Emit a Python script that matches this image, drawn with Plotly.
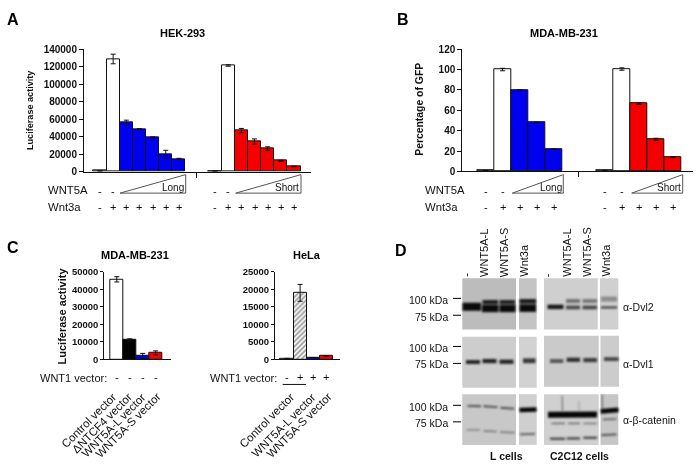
import plotly.graph_objects as go

W, H = 700, 473
FONT = "Liberation Sans"
BLUE, RED, WHITE, BLACK = "#0000f0", "#f50000", "#ffffff", "#000000"

# Panel A
A_x1 = [0, 1, 2, 3, 4, 5, 6]
A_y1 = [1000, 129000, 56000, 48500, 39000, 20000, 14500]
A_e1 = [300, 5500, 3000, 800, 800, 4500, 800]
A_c1 = [WHITE, WHITE, BLUE, BLUE, BLUE, BLUE, BLUE]
A_x2 = [8.75, 9.75, 10.75, 11.75, 12.75, 13.75, 14.75]
A_y2 = [800, 121500, 47000, 34500, 26500, 12500, 6000]
A_e2 = [200, 800, 2500, 3000, 2000, 600, 400]
A_c2 = [WHITE, WHITE, RED, RED, RED, RED, RED]
A_wnt5a = ["-", "-", "", "", "", "", ""]
A_wnt3a = ["-", "+", "+", "+", "+", "+", "+"]

# Panel B
B_x1 = [0, 1, 2, 3, 4]
B_y1 = [0.8, 100, 80, 48, 22]
B_e1 = [0.2, 1.2, 0.3, 0.3, 0.4]
B_c1 = [WHITE, WHITE, BLUE, BLUE, BLUE]
B_x2 = [7, 8, 9, 10, 11]
B_y2 = [0.8, 100.5, 66.5, 31.5, 14]
B_e2 = [0.2, 1.2, 0.8, 1, 0.5]
B_c2 = [WHITE, WHITE, RED, RED, RED]
B_wnt5a = ["-", "-", "", "", ""]
B_wnt3a = ["-", "+", "+", "+", "+"]

# Panel C
C1_x = [0, 1, 2, 3]
C1_y = [45700, 11000, 2000, 3700]
C1_e = [1500, 800, 1500, 1200]
C1_c = [WHITE, BLACK, BLUE, RED]
C1_wnt1 = ["-", "-", "-", "-"]
C1_labels = ["Control vector", "ΔNTCF4 vector", "WNT5A-L vector", "WNT5A-S vector"]
C1_label_ends = [119, 134, 148, 163]
C2_x = [0, 1, 2, 3]
C2_y = [300, 19000, 500, 1000]
C2_e = [0, 2400, 0, 0]
C2_c = [WHITE, WHITE, BLUE, RED]
C2_wnt1 = ["-", "+", "+", "+"]
C2_labels = ["Control vector", "WNT5A-L vector", "WNT5A-S vector"]
C2_label_ends = [297, 318, 334]

# Panel D: gel panels (left, right, top, bottom, gray) and bands (x0, x1, y0, y1, width, gray)
GELS = [
    (462.3, 516, 279.3, 332, "#bcbcbc"), (519, 536.7, 279.3, 332, "#c4c4c4"),
    (544, 597.7, 279.3, 332, "#cfcfcf"), (600, 618.3, 279.3, 332, "#d0d0d0"),
    (462.3, 516, 339.3, 391.7, "#cdcdcd"), (519, 536.7, 339.3, 391.7, "#d2d2d2"),
    (544, 598.7, 338.3, 390.7, "#cacaca"), (600.5, 619, 338.3, 390.7, "#cccccc"),
    (462.3, 516, 398.3, 450.3, "#c8c8c8"), (519, 536.7, 398.3, 450.3, "#cfcfcf"),
    (544, 598.7, 398.3, 450.3, "#d0d0d0"), (600.5, 618.3, 398.3, 450.3, "#c6c6c6"),
]
BANDS = [
    # Dvl2, L cells
    (462.5, 481, 308.5, 308.7, 8, "#0a0a0a"),
    (482.5, 498, 303.7, 303.7, 4, "#1c1c1c"), (482, 498.5, 310.3, 310.3, 7.5, "#0a0a0a"),
    (499.5, 515, 303.7, 303.7, 4, "#222222"), (499.5, 515.5, 310.3, 310.3, 7.5, "#0a0a0a"),
    (519.5, 536, 303, 303, 4.5, "#181818"), (519.5, 536, 310, 310, 7.5, "#0a0a0a"),
    # Dvl2, C2C12
    (547.5, 563.5, 308.7, 308.7, 4.5, "#181818"),
    (566, 580, 302.7, 302.7, 3.8, "#707070"), (566, 580, 309.3, 309.3, 3.8, "#484848"),
    (582.5, 597, 302.7, 302.7, 3.8, "#757575"), (582.5, 597, 309.3, 309.3, 3.8, "#484848"),
    (601, 617, 300.7, 300.7, 5, "#8c8c8c"), (601, 617, 309.3, 309.3, 2, "#303030"),
    # Dvl1, L cells
    (466, 480, 365.3, 365.3, 3.8, "#1f1f1f"), (482.5, 496.5, 364.3, 364.3, 4.2, "#222222"),
    (499.5, 513.5, 365, 365, 4.2, "#222222"), (523, 535.5, 364, 364, 4.8, "#383838"),
    # Dvl1, C2C12
    (550, 563.3, 364.3, 364.3, 3.8, "#505050"), (566.7, 580, 363, 363, 4.2, "#2c2c2c"),
    (583.3, 597, 363.3, 363.3, 4.2, "#3c3c3c"), (604, 618.5, 362.3, 362.3, 3.8, "#444444"),
    # beta-catenin, L cells
    (467.5, 481, 410.3, 410.6, 1.9, "#4a4a4a"), (483.5, 497.5, 410.6, 411.6, 1.9, "#4a4a4a"),
    (500.5, 514, 412.2, 413.2, 1.9, "#4a4a4a"),
    (466.5, 480, 435, 435, 1.5, "#808080"), (483.5, 496.5, 436, 436.6, 1.5, "#707070"),
    (500, 514.5, 437, 437.8, 1.5, "#707070"),
    (519.5, 536.5, 414.6, 414, 4.5, "#050505"), (520, 535, 439.5, 439, 1.7, "#555555"),
    # beta-catenin, C2C12
    (548, 597, 419.5, 419.2, 6, "#050505"),
    (551.5, 565, 428.3, 428.3, 1.6, "#6a6a6a"), (568, 580, 428.3, 428.3, 1.6, "#6a6a6a"),
    (583.5, 597, 428.3, 428.3, 1.6, "#787878"),
    (550, 565, 444, 444, 2, "#333333"), (566.7, 580, 443.7, 443.7, 2, "#333333"),
    (583.3, 597, 443, 443, 2, "#333333"),
    (600.7, 618.5, 416, 414.5, 4.8, "#050505"), (603, 616.5, 424.3, 423.7, 1.6, "#555555"),
    (601.5, 616.5, 440.3, 439.5, 1.7, "#444444"),
    # vertical streaks
    (562.3, 562.5, 400, 415, 1.2, "#707070"), (579, 579.2, 405, 415, 1, "#999999"),
    (602.3, 602.5, 398.5, 414, 1.2, "#666666"),
]
D_lanes = ["-", "WNT5A-L", "WNT5A-S", "Wnt3a", "-", "WNT5A-L", "WNT5A-S", "Wnt3a"]
D_lane_x = [465.7, 484, 504.3, 524.3, 547.3, 566.7, 586.7, 606]
D_kda = [("100 kDa", 301.7, 300), ("75 kDa", 319, 317.3), ("100 kDa", 350.7, 349.3),
         ("75 kDa", 367.7, 366.7), ("100 kDa", 411, 409.7), ("75 kDa", 427.7, 426.7)]
D_right = [("α-Dvl2", 309), ("α-Dvl1", 367.3), ("α-β-catenin", 425)]


def X(p):
    return p / W


def Y(p):
    return 1 - p / H


fig = go.Figure()
annotations = []
shapes = []


def text(s, x, y, size=11, bold=False, xa="center", ya="middle", angle=0, xref="paper", color="#111111"):
    annotations.append(dict(
        text=f"<b>{s}</b>" if bold else s, x=x if xref != "paper" else X(x), y=Y(y),
        xref=xref, yref="paper", xanchor=xa, yanchor=ya, textangle=angle, showarrow=False,
        font=dict(family=FONT, size=size, color=color), borderpad=0, borderwidth=0))


def bars(x, y, e, colors, ax, pattern=None):
    marker = dict(color=colors, line=dict(color="#111111", width=1))
    if pattern:
        marker["pattern"] = pattern
    fig.add_trace(go.Bar(
        x=x, y=y, width=1, marker=marker, xaxis=f"x{ax}", yaxis=f"y{ax}", showlegend=False,
        error_y=dict(type="data", array=e, visible=True, color="#111111", thickness=1, width=2.5)))


bars(A_x1, A_y1, A_e1, A_c1, "")
bars(A_x2, A_y2, A_e2, A_c2, "")
bars(B_x1, B_y1, B_e1, B_c1, 2)
bars(B_x2, B_y2, B_e2, B_c2, 2)
bars(C1_x, C1_y, C1_e, C1_c, 3)
bars(C2_x, C2_y, C2_e, C2_c, 4,
     pattern=dict(shape=["", "/", "", ""], fgcolor="#111111", bgcolor="#ffffff", size=3.5, solidity=0.55))


def axis(left, right, c0, slot, tickvals=None):
    a = dict(domain=[X(left), X(right)], range=[(left - c0) / slot, (right - c0) / slot],
             showgrid=False, zeroline=False, showline=True, linecolor="#111111", linewidth=1,
             showticklabels=False, fixedrange=True)
    if tickvals:
        a.update(tickmode="array", tickvals=tickvals, ticks="outside", ticklen=5, tickcolor="#111111")
    else:
        a.update(ticks="", tickvals=[])
    return a


def yaxis(anchor, left_bottom, top, ymax, dtick, size, ticklen=4):
    return dict(domain=[Y(left_bottom), Y(top)], range=[0, ymax], dtick=dtick, anchor=anchor,
                showgrid=False, zeroline=False, showline=True, linecolor="#111111", linewidth=1,
                ticks="outside", ticklen=ticklen, tickcolor="#111111", tickformat="d", fixedrange=True,
                tickfont=dict(family=FONT, size=size, color="#111111", weight="bold"))


layout_axes = dict(
    xaxis=dict(axis(84, 311, 100, 13.15, [7.3]), anchor="y"),
    yaxis=dict(yaxis("x", 170, 44.5, 140000, 20000, 10)),
    xaxis2=dict(axis(462.3, 693, 485.5, 17.05, [5.48]), anchor="y2"),
    yaxis2=dict(yaxis("x2", 169.7, 44.3, 120, 20, 10)),
    xaxis3=dict(axis(104.3, 171, 116.8, 12.95), anchor="y3"),
    yaxis3=dict(yaxis("x3", 362.7, 272.7, 50000, 10000, 9.5, 3)),
    xaxis4=dict(axis(275, 340, 287, 13.1), anchor="y4"),
    yaxis4=dict(yaxis("x4", 362.7, 272.7, 25000, 5000, 9.5, 3)),
    xaxis5=dict(domain=[0, 1], range=[0, W], visible=False, anchor="y5", fixedrange=True),
    yaxis5=dict(domain=[0, 1], range=[H, 0], visible=False, anchor="x5", fixedrange=True),
)

# Panel letters and titles
for s, x, y in [("A", 7, 14), ("B", 397, 14), ("C", 7, 248), ("D", 394.5, 251)]:
    text(s, x, y, size=16, bold=True, xa="left", color=BLACK)
for s, x, y in [("HEK-293", 182, 28), ("MDA-MB-231", 564, 28), ("MDA-MB-231", 135, 255), ("HeLa", 306.7, 255)]:
    text(s, x, y, size=11, bold=True, color=BLACK)
text("Luciferase activity", 30.7, 107, size=9.1, bold=True, angle=-90)
text("Percentage of GFP", 420, 106.5, size=10.4, bold=True, angle=-90)
text("Luciferase activity", 62, 317.5, size=11, bold=True, angle=-90)

# Treatment rows
GRAY_LINE = "#555555"
for left, xref, x1, x2, w5a, w3a, t1, t2, long_r, short_r in [
    (47.7, "x", A_x1, A_x2, A_wnt5a, A_wnt3a, (120, 185.7), (235.7, 301), 184, 299),
    (425.3, "x2", B_x1, B_x2, B_wnt5a, B_wnt3a, (512.3, 563.3), (631.7, 682.7), 562, 681),
]:
    text("WNT5A", left, 189, size=11.3, xa="left")
    text("Wnt3a", left, 206, size=11.3, xa="left")
    for x, m5, m3 in list(zip(x1, w5a, w3a)) + list(zip(x2, w5a, w3a)):
        if m5:
            text(m5, x, 190, size=11, xref=xref)
        text(m3, x, 206, size=11, xref=xref)
    for (a, b) in (t1, t2):
        shapes.append(dict(type="path", xref="paper", yref="paper", line=dict(color=GRAY_LINE, width=1),
                           path=f"M {X(a)} {Y(192)} L {X(b)} {Y(173)} L {X(b)} {Y(192)} Z"))
    text("Long", long_r, 186, size=10, xa="right")
    text("Short", short_r, 186, size=10, xa="right")

text("WNT1 vector:", 40, 381.7, size=11, xa="left")
text("WNT1 vector:", 210, 381.7, size=11, xa="left")
for x, m in zip(C1_x, C1_wnt1):
    text(m, x, 381, size=11, xref="x3")
for x, m in zip(C2_x, C2_wnt1):
    text(m, x, 381, size=11, xref="x4")
shapes.append(dict(type="line", xref="paper", yref="paper", x0=X(282.7), x1=X(306), y0=Y(388.3), y1=Y(388.3),
                   line=dict(color="#111111", width=1)))
for s, x in list(zip(C1_labels, C1_label_ends)) + list(zip(C2_labels, C2_label_ends)):
    text(s, x, 394.5, size=11.5, xa="right", ya="top", angle=-45)

# Panel D
for (l, r, t, b, g) in GELS:
    shapes.append(dict(type="rect", xref="paper", yref="paper", layer="below", line=dict(width=0), fillcolor=g,
                       x0=X(l), x1=X(r), y0=Y(t), y1=Y(b)))
for (x0, x1, y0, y1, w, g) in BANDS:
    fig.add_trace(go.Scatter(x=[x0, x1], y=[y0, y1], mode="lines", showlegend=False, hoverinfo="skip",
                             xaxis="x5", yaxis="y5", line=dict(color=g, width=w)))
for s, x in zip(D_lanes, D_lane_x):
    text(s, x, 278, size=11, xa="center", ya="bottom", angle=-90)
for s, ylab, ytick in D_kda:
    text(s, 448, ylab, size=10.5, xa="right")
    shapes.append(dict(type="line", xref="paper", yref="paper", x0=X(453), x1=X(461), y0=Y(ytick), y1=Y(ytick),
                       line=dict(color=BLACK, width=1)))
for s, y in D_right:
    text(s, 623.3, y, size=10.5, xa="left")
text("L cells", 506.7, 462, size=10.5, bold=True)
text("C2C12 cells", 579, 462, size=10.5, bold=True)

fig.update_layout(
    width=W, height=H, margin=dict(l=0, r=0, t=0, b=0), paper_bgcolor="white", plot_bgcolor="rgba(0,0,0,0)",
    barmode="overlay", bargap=0, showlegend=False, annotations=annotations, shapes=shapes,
    font=dict(family=FONT), **layout_axes)

CSS = (".main-svg{filter:blur(0.35px);}"
       ".x5y5 .scatterlayer{filter:blur(1px);}")
fig.write_html("out.html", config={"displayModeBar": False, "responsive": False},
               post_script=("document.body.style.margin='0';document.documentElement.style.overflow='hidden';"
                            "var s=document.createElement('style');s.textContent=%r;document.head.appendChild(s);" % CSS))
